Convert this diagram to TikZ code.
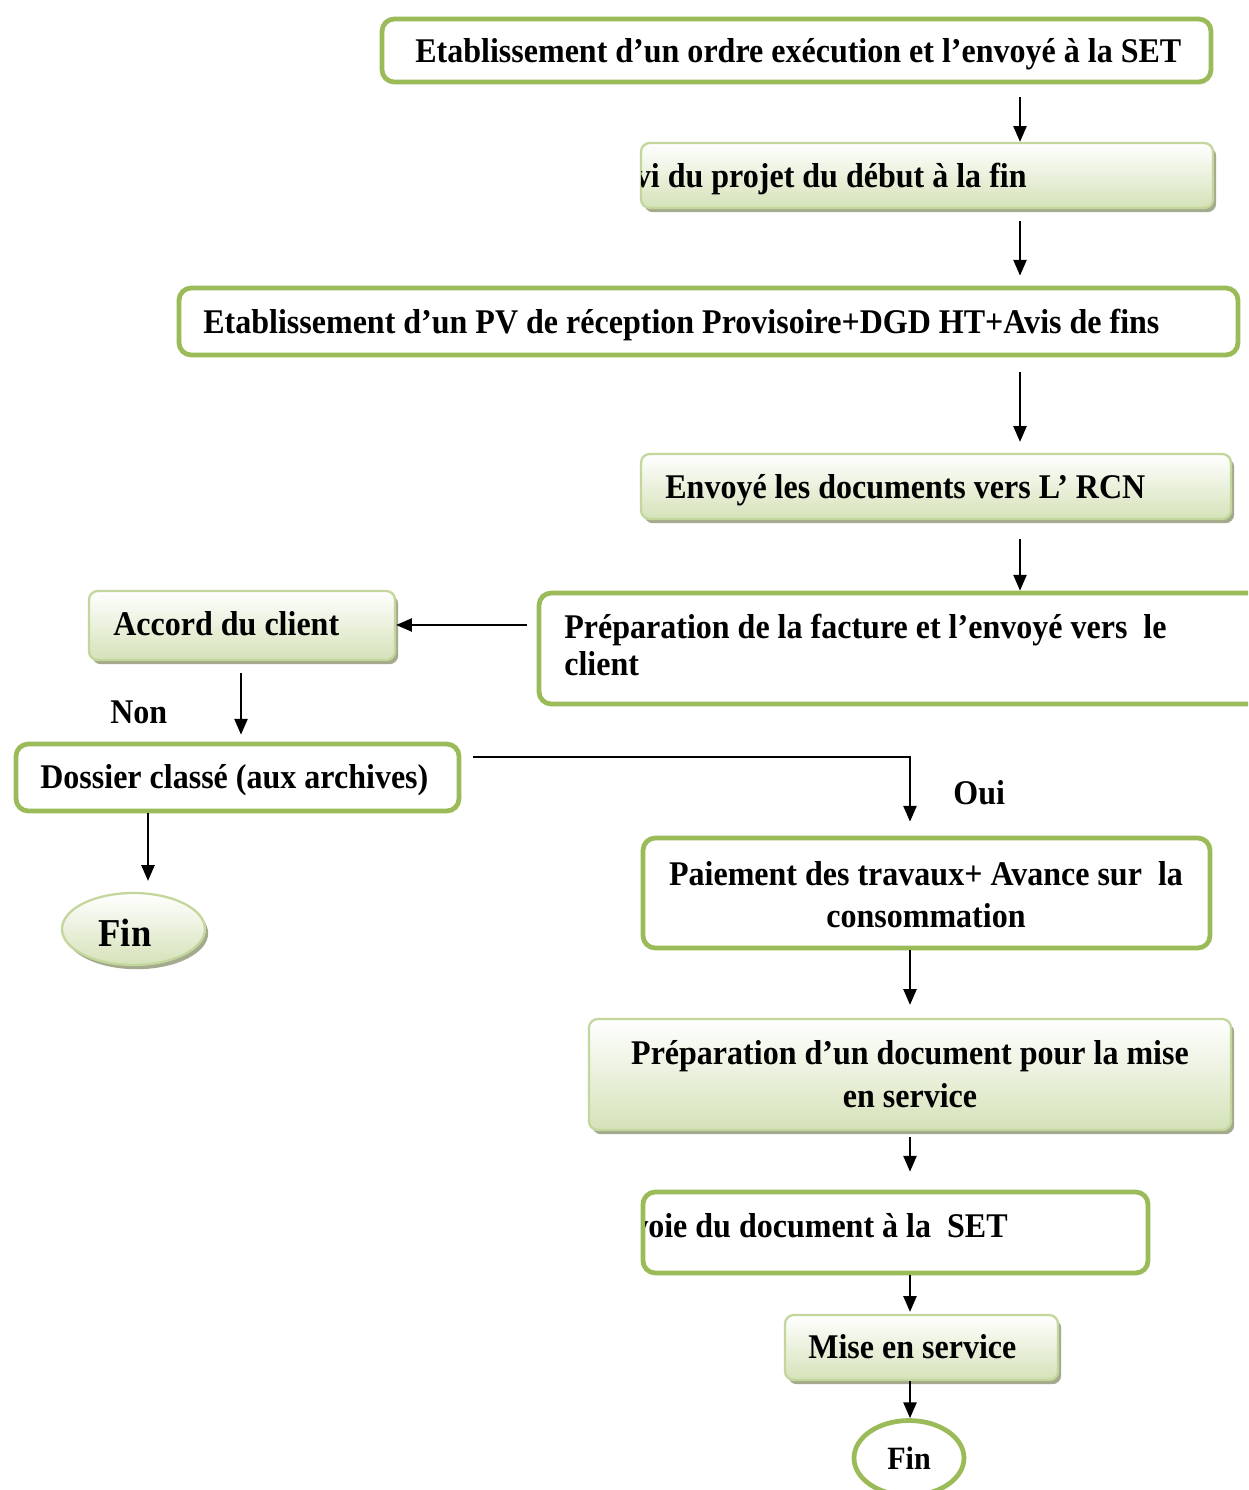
\documentclass[tikz,border=0pt]{standalone}
\usepackage{fontspec}
\newfontfamily\tnr{Liberation Serif}[FakeStretch=0.925]
\usetikzlibrary{arrows.meta,shadows,fit,shapes.geometric}
\definecolor{gborder}{HTML}{9BBB59}
\definecolor{lborder}{HTML}{C3D69B}
\definecolor{gfill}{HTML}{D5E2B9}
\definecolor{shad}{HTML}{A4AA8E}
\begin{document}
\begin{tikzpicture}[x=0.02cm,y=-0.02cm,
  greenbox/.style={draw=gborder, line width=2.7pt, rounded corners=7pt, fill=white, inner sep=0pt},
  gradbox/.style={draw=lborder, line width=1.3pt, rounded corners=5pt, top color=white, bottom color=gfill, inner sep=0pt,
     drop shadow={shadow xshift=1.8pt, shadow yshift=-2.4pt, fill=shad, opacity=1}},
  txt/.style={font=\tnr\bfseries\fontsize{19.7}{23}\selectfont, inner sep=0pt},
  arr/.style={-{Triangle[length=9pt,width=7.5pt]}, line width=1.1pt},
]
\useasboundingbox (0,0) rectangle (1248,1490);
\clip (0,0) rectangle (1248,1490);
\fill[white] (0,0) rectangle (1248,1490);

% helper coordinates for connector positions
\coordinate (xa) at (1020,0);
\coordinate (xb) at (910,0);
\coordinate (xc) at (241,0);
\coordinate (xd) at (148,0);
\coordinate (ya) at (0,625);
\coordinate (yb) at (0,757);

% boxes
\node[greenbox, fit={(382,19)(1211,82)}] (b1) {};
\node[txt, anchor=base west] (t1) at (415,63) {Etablissement d’un ordre exécution et l’envoyé à la SET};

\node[gradbox, fit={(641,143)(1213,208)}] (b2) {};
\begin{scope}
\clip (641,140) rectangle (1215,210);
\node[txt, anchor=base east] (t2) at (1027,188) {vi du projet du début à la fin};
\end{scope}

\node[greenbox, fit={(179,288)(1238,355)}] (b3) {};
\node[txt, anchor=base west] (t3) at (203,333) {Etablissement d’un PV de réception Provisoire+DGD HT+Avis de fins};

\node[gradbox, fit={(641,454)(1231,519)}] (b4) {};
\node[txt, anchor=base west] (t4) at (665,498) {Envoyé les documents vers L’ RCN};

\node[greenbox, fit={(539,593)(1262,704)}] (b5) {};
\node[txt, anchor=base west, align=left, font=\tnr\bfseries\fontsize{19.7}{21}\selectfont] (t5) at (564,675) {Préparation de la facture et l’envoyé vers~ le\\client};

\node[gradbox, fit={(89,591)(395,660)}] (acc) {};
\node[txt, anchor=base west] (t6) at (113,635) {Accord du client};

\node[txt, anchor=base west] (non) at (110,723) {Non};

\node[greenbox, fit={(16,744)(459,811)}] (dos) {};
\node[txt, anchor=base west] (t7) at (40,788) {Dossier classé (aux archives)};

\node[txt, anchor=base west] (oui) at (953,804) {Oui};

\node[gradbox, ellipse, minimum width=2.86cm, minimum height=1.44cm, inner sep=0pt] (fin1) at (133.5,929) {};
\node[txt, anchor=base, font=\tnr\bfseries\fontsize{22.5}{26}\selectfont] (t8) at (125,946) {Fin};

\node[greenbox, fit={(643,838)(1210,948)}] (pai) {};
\node[txt, anchor=base, align=center, font=\tnr\bfseries\fontsize{19.7}{23.9}\selectfont] (t9) at (926,927) {Paiement des travaux+ Avance sur~ la\\consommation};

\node[gradbox, fit={(589,1019)(1231,1130)}] (prep) {};
\node[txt, anchor=base, align=center, font=\tnr\bfseries\fontsize{19.7}{24}\selectfont] (t10) at (910,1107) {Préparation d’un document pour la mise\\en service};

\node[greenbox, fit={(643,1192)(1148,1273)}] (env) {};
\begin{scope}
\clip (644,1185) rectangle (1150,1280);
\node[txt, anchor=base east] (t11) at (1008,1237) {voie du document à la~ SET};
\end{scope}
\draw[gborder, line width=2.7pt] (643,1200) -- (643,1265);

\node[gradbox, fit={(785,1315)(1058,1380)}] (mise) {};
\node[txt, anchor=base west] (t12) at (808,1358) {Mise en service};

\node[greenbox, ellipse, minimum width=2.2cm, minimum height=1.5cm, inner sep=0pt] (fin2) at (909,1458) {};
\node[txt, anchor=base, font=\tnr\bfseries\fontsize{18.5}{22}\selectfont] (t13) at (909,1469) {Fin};

% connectors
\draw[arr, shorten <=0.26cm] (b1.south -| xa) -- (b2.north -| xa);
\draw[arr, shorten <=0.24cm, shorten >=0.2cm] (b2.south -| xa) -- (b3.north -| xa);
\draw[arr, shorten <=0.3cm, shorten >=0.22cm] (b3.south -| xa) -- (b4.north -| xa);
\draw[arr, shorten <=0.38cm] (b4.south -| xa) -- (b5.north -| xa);
\draw[arr, shorten <=0.2cm] (b5.west |- ya) -- (acc.east |- ya);
\draw[arr, shorten <=0.24cm, shorten >=0.14cm] (acc.south -| xc) -- (dos.north -| xc);
\draw[arr, shorten <=0.24cm, shorten >=0.28cm] (dos.east |- yb) -| (pai.north -| xb);
\draw[arr, shorten >=0.22cm] (dos.south -| xd) -- (fin1.north -| xd);
\draw[arr, shorten >=0.26cm] (pai.south -| xb) -- (prep.north -| xb);
\draw[arr, shorten <=0.12cm, shorten >=0.36cm] (prep.south -| xb) -- (env.north -| xb);
\draw[arr, shorten >=0.04cm] (env.south -| xb) -- (mise.north -| xb);
\draw[arr] (mise.south -| xb) -- (fin2.north -| xb);
\end{tikzpicture}
\end{document}
